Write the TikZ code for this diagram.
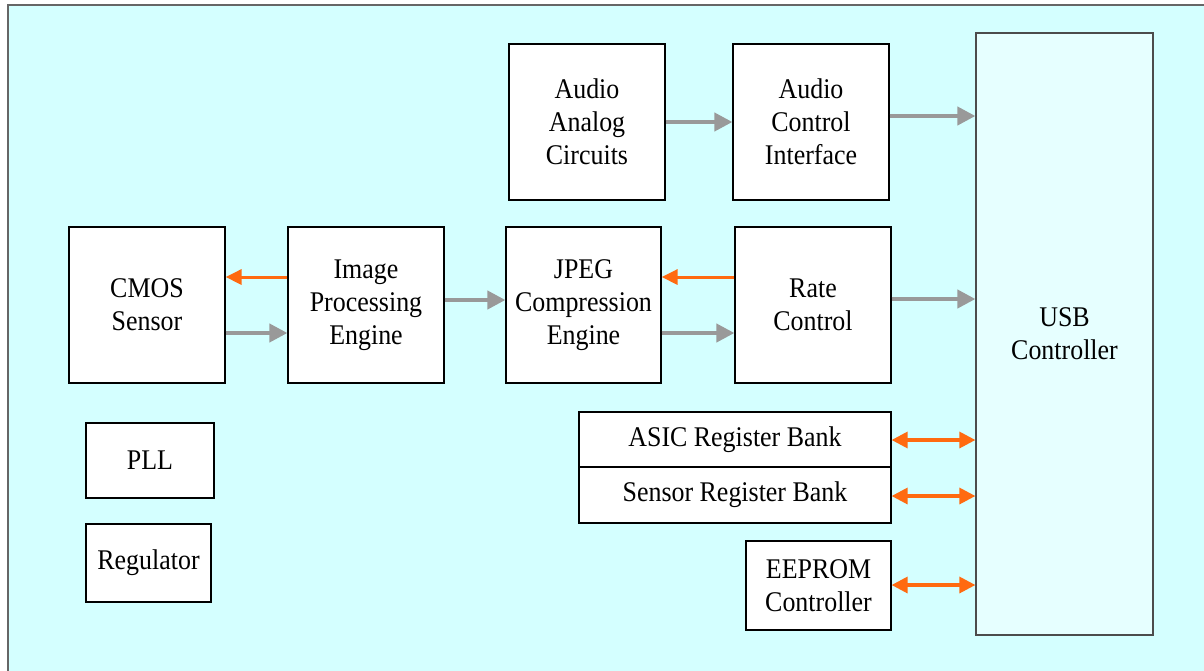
\documentclass[tikz,border=0pt]{standalone}
\usepackage{fontspec}
\setmainfont{Liberation Serif}[FakeStretch=0.91]
\usetikzlibrary{arrows.meta}
\definecolor{bgc}{HTML}{D4FFFF}
\definecolor{usbc}{HTML}{E6FFFF}
\definecolor{grayar}{HTML}{999999}
\definecolor{orangear}{HTML}{FF6A10}
\tikzset{
  blk/.style={draw=black, line width=1.2pt, fill=white, inner sep=0pt, align=center,
    font=\fontsize{28.5}{33}\selectfont},
  garrow/.style={draw=grayar, line width=4pt, -{Triangle[length=18pt,width=18pt]}},
  oarrow/.style={draw=orangear, line width=3pt, -{Triangle[length=16pt,width=15pt]}},
  barrow/.style={draw=orangear, line width=3.2pt, {Triangle[length=16pt,width=16pt]}-{Triangle[length=16pt,width=16pt]}},
}
\begin{document}
\begin{tikzpicture}[x=1pt,y=-1pt]
\useasboundingbox (0,0) rectangle (1204,670);
\fill[white] (0,0) rectangle (1204,670);
\draw[fill=bgc, draw=gray!80!black, line width=1.5pt] (8,5) rectangle (1220,690);
% blocks
\node[blk, minimum width=156pt, minimum height=156pt] (aac) at (587,122) {Audio\\Analog\\Circuits};
\node[blk, minimum width=156pt, minimum height=156pt] (aci) at (811,122) {Audio\\Control\\Interface};
\node[blk, fill=usbc, draw=gray!60!black, minimum width=177pt, minimum height=602pt] (usb) at (1064.5,334) {USB\\Controller};
\node[blk, minimum width=156pt, minimum height=156pt] (cmos) at (147,305) {CMOS\\Sensor};
\node[blk, minimum width=156pt, minimum height=156pt] (ipe) at (366,305) {Image\\Processing\\Engine};
\node[blk, minimum width=155pt, minimum height=156pt] (jpeg) at (583.5,305) {JPEG\\Compression\\Engine};
\node[blk, minimum width=156pt, minimum height=156pt] (rate) at (813,305) {Rate\\Control};
\node[blk, minimum width=128pt, minimum height=75pt] (pll) at (150,460.5) {PLL};
\node[blk, minimum width=125pt, minimum height=78pt] (reg) at (148.5,563) {Regulator};
\node[blk, minimum width=312pt, minimum height=55pt] (asic) at (735,439.5) {ASIC Register Bank};
\node[blk, minimum width=312pt, minimum height=56pt] (srb) at (735,495) {Sensor Register Bank};
\node[blk, minimum width=145pt, minimum height=89pt] (eep) at (818.5,585.5) {EEPROM\\Controller};
% connectors
\draw[garrow] (aac.east |- 0,122) -- (aci.west |- 0,122);
\draw[garrow] (aci.east |- 0,116) -- (usb.west |- 0,116);
\draw[oarrow] (ipe.west |- 0,277) -- (cmos.east |- 0,277);
\draw[garrow] (cmos.east |- 0,333) -- (ipe.west |- 0,333);
\draw[garrow] (ipe.east |- 0,300) -- (jpeg.west |- 0,300);
\draw[oarrow] (rate.west |- 0,277) -- (jpeg.east |- 0,277);
\draw[garrow] (jpeg.east |- 0,333) -- (rate.west |- 0,333);
\draw[garrow] (rate.east |- 0,299) -- (usb.west |- 0,299);
\draw[barrow] (asic.east |- 0,440) -- (usb.west |- 0,440);
\draw[barrow] (srb.east |- 0,496) -- (usb.west |- 0,496);
\draw[barrow] (eep.east |- 0,585) -- (usb.west |- 0,585);
\end{tikzpicture}
\end{document}
